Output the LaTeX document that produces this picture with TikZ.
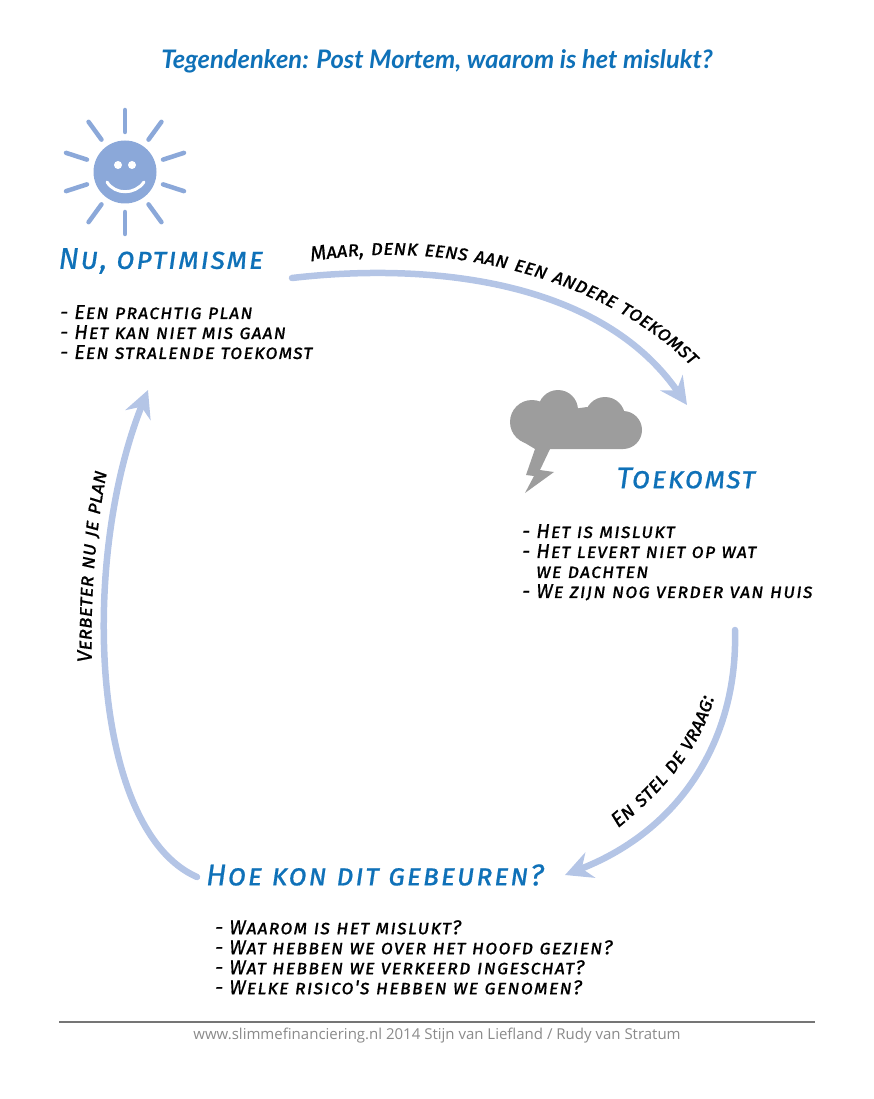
\documentclass[tikz,border=0pt]{standalone}
\usepackage{fontspec}
\usepackage{xcolor}
\usetikzlibrary{arrows.meta,decorations.text,calc}
\setmainfont{Open Sans}
\newfontfamily\handfont[LetterSpace=5,Letters=SmallCaps,FakeBold=0.6]{Fira Sans Italic}
\newfontfamily\headfont{Lato}
\definecolor{TitleBlue}{RGB}{15,113,184}
\definecolor{SunBlue}{RGB}{139,168,217}
\definecolor{FlowBlue}{RGB}{180,197,230}
\definecolor{CloudGrey}{RGB}{157,157,157}
\definecolor{FootGrey}{RGB}{138,138,138}
\newcommand{\flowfont}{\fontsize{21}{22}\selectfont\handfont}
\tikzset{
  headtext/.style={text=TitleBlue,font=\fontsize{30}{32}\selectfont\handfont,inner sep=0pt},
  listtext/.style={anchor=north west,align=left,inner sep=0pt,
                   font=\fontsize{20}{20}\selectfont\handfont},
  flow/.style={-{Stealth[length=27pt,width=27pt,inset=9pt]},FlowBlue,line width=6.5pt,line cap=round},
  flowtext/.style={decorate},
  sunray/.style={SunBlue,line width=4.5pt,line cap=round},
}
\begin{document}
\begin{tikzpicture}[x=1pt,y=-1pt]
  \useasboundingbox (0,0) rectangle (874,1099);
  \node[text=TitleBlue,font=\fontsize{25.5}{28}\selectfont\headfont\bfseries\itshape] (maintitle) at (437,61)
    {Tegendenken: Post Mortem, waarom is het mislukt?};
  %
  % sun
  \fill[SunBlue] (125,172) circle (31.5);
  \foreach \a in {18,54,...,342}
    \draw[sunray] ($(125,172)+(\a:40)$) -- ($(125,172)+(\a:62)$);
  \fill[white] (118,165) circle (4) (132,165) circle (4);
  \draw[white,line width=3pt,line cap=round] (107,182) .. controls (115,195) and (135,195) .. (144,182);
  %
  % cloud
  \fill[CloudGrey] (532,422) circle (22) (558,410) circle (20) (605,417) circle (20) (623,430) circle (19);
  \fill[CloudGrey] (520,440) -- (532,415) -- (587,407) -- (623,420) -- (623,449) -- (535,449) -- cycle;
  \fill[CloudGrey] (535,449) -- (550,449) -- (540,470) -- (554,472) -- (525,493) -- (534,476) -- (526,475) -- cycle;
  %
  \node[headtext] (nutitle) at (161,261) {Nu, optimisme};
  \node[headtext] (tktitle) at (686,478) {Toekomst};
  \node[headtext] (hoetitle) at (375,875) {Hoe kon dit gebeuren?};
  %
  \node[listtext] (nulist) at (60,305) {- Een prachtig plan\\- Het kan niet mis gaan\\- Een stralende toekomst};
  \node[listtext] (tklist) at (522,524) {- Het is mislukt\\- Het levert niet op wat\\\phantom{- }we dachten\\- We zijn nog verder van huis};
  \node[listtext] (hoelist) at (215,920) {- Waarom is het mislukt?\\- Wat hebben we over het hoofd gezien?\\- Wat hebben we verkeerd ingeschat?\\- Welke risico's hebben we genomen?};
  %
  \draw[flow] ([shift={(131,17)}]nutitle.center) .. controls (430,262) and (600,280) .. ([shift={(1,-73)}]tktitle.center);
  \draw[flow] ([shift={(213,106)}]tklist.north west) .. controls (738,740) and (680,830) .. ([shift={(190,0)}]hoetitle.center);
  \draw[flow] ([shift={(-178,2)}]hoetitle.center) .. controls (90,830) and (80,560) .. ([shift={(88,85)}]nulist.north west);
  %
  \path[flowtext,decoration={text along path,text align=center,
    text={|\flowfont|Maar, denk eens aan een andere toekomst}}]
    (303,263) .. controls (430,238) and (600,270) .. (697,372);
  \path[flowtext,decoration={text along path,text align=center,
    text={|\flowfont|En stel de vraag:}}]
    (612,833) .. controls (660,795) and (703,750) .. (716,690);
  \path[flowtext,decoration={text along path,text align=center,
    text={|\flowfont|Verbeter nu je plan}}]
    (92,667) .. controls (90,600) and (95,530) .. (108,467);
  %
  \coordinate (footl) at (59,1022);
  \coordinate (footr) at (815,1022);
  \draw[FootGrey!85!black,line width=1.6pt] (footl) -- (footr);
  \node[text=FootGrey,font=\fontsize{15}{18}\selectfont] (footer) at (437,1036)
    {www.slimmefinanciering.nl 2014 Stijn van Liefland / Rudy van Stratum};
\end{tikzpicture}
\end{document}
